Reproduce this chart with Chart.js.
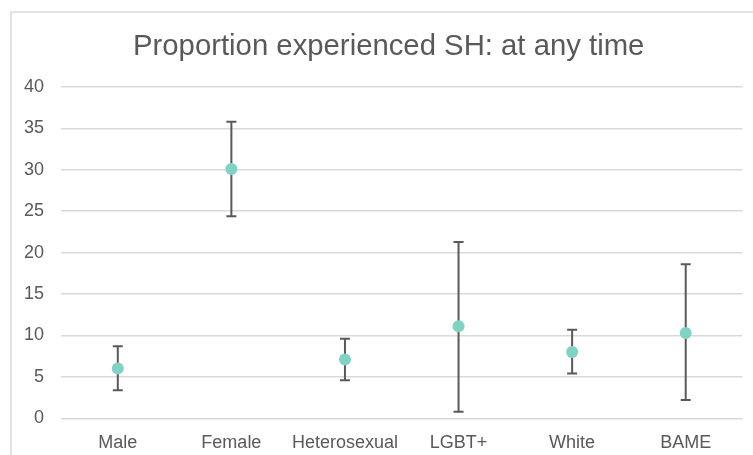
<!DOCTYPE html>
<html>
<head>
<meta charset="utf-8">
<script src="https://cdn.jsdelivr.net/npm/chart.js@4/dist/chart.umd.min.js"></script>
<style>
  html, body { margin: 0; padding: 0; background: #ffffff; }
  #wrap { position: relative; width: 753px; height: 455px; }
</style>
</head>
<body>
<div id="wrap"><canvas id="c" width="753" height="455"></canvas></div>
<script>
// Groups, point estimates (%) and their confidence limits
const categories = ['Male', 'Female', 'Heterosexual', 'LGBT+', 'White', 'BAME'];
const estimates  = [6.0, 30.1, 7.1, 11.1, 8.0, 10.3];
const lowerCI    = [3.4, 24.4, 4.6, 0.8, 5.4, 2.2];
const upperCI    = [8.7, 35.8, 9.6, 21.3, 10.7, 18.6];
const yTicks     = [0, 5, 10, 15, 20, 25, 30, 35, 40];
const chartTitle = 'Proportion experienced SH: at any time';

const TEXT = '#595959';
const GRID = '#d9d9d9';
const FONT = "'Liberation Sans', Arial, sans-serif";

// Outer frame of the chart box (it runs past the right and bottom edges)
const framePlugin = {
  id: 'frame',
  beforeDraw(chart) {
    const ctx = chart.ctx;
    ctx.save();
    ctx.fillStyle = '#ffffff';
    ctx.fillRect(0, 0, chart.width, chart.height);
    ctx.strokeStyle = GRID;
    ctx.lineWidth = 1.5;
    ctx.beginPath();
    ctx.moveTo(11, chart.height);
    ctx.lineTo(11, 12);
    ctx.lineTo(chart.width, 12);
    ctx.stroke();
    ctx.restore();
  }
};

// Title centred over the whole chart box, which is wider than the canvas
const titlePlugin = {
  id: 'boxTitle',
  afterDraw(chart) {
    const ctx = chart.ctx;
    ctx.save();
    ctx.fillStyle = TEXT;
    ctx.font = '29.3px ' + FONT;
    ctx.textAlign = 'center';
    ctx.textBaseline = 'alphabetic';
    ctx.fillText(chartTitle, 388.7, 54.5);
    ctx.restore();
  }
};

// Vertical interval bars with caps, drawn beneath the markers
const errorBarPlugin = {
  id: 'errorBars',
  beforeDatasetsDraw(chart) {
    const ctx = chart.ctx;
    const x = chart.scales.x;
    const y = chart.scales.y;
    ctx.save();
    ctx.strokeStyle = '#595959';
    ctx.lineWidth = 2;
    const cap = 5;
    categories.forEach((_, i) => {
      const px = x.getPixelForValue(i);
      const yl = y.getPixelForValue(lowerCI[i]);
      const yu = y.getPixelForValue(upperCI[i]);
      ctx.beginPath();
      ctx.moveTo(px, yl); ctx.lineTo(px, yu);
      ctx.moveTo(px - cap, yu); ctx.lineTo(px + cap, yu);
      ctx.moveTo(px - cap, yl); ctx.lineTo(px + cap, yl);
      ctx.stroke();
    });
    ctx.restore();
  }
};

new Chart(document.getElementById('c'), {
  type: 'line',
  data: {
    labels: categories,
    datasets: [{
      data: estimates,
      showLine: false,
      pointRadius: 6,
      pointHoverRadius: 6,
      pointBackgroundColor: 'rgb(128, 210, 196)',
      pointBorderWidth: 0,
      borderColor: 'rgb(128, 210, 196)'
    }]
  },
  options: {
    responsive: false,
    animation: false,
    devicePixelRatio: 1,
    layout: { padding: { left: 11, right: 10.5, top: 87, bottom: 0 } },
    plugins: {
      legend: { display: false },
      tooltip: { enabled: false },
      title: { display: false }
    },
    scales: {
      x: {
        type: 'category',
        offset: true,
        grid: { display: false, drawTicks: false },
        border: { display: false },
        ticks: {
          color: TEXT,
          font: { family: FONT, size: 18 },
          padding: 14,
          maxRotation: 0,
          autoSkip: false
        },
        afterFit(scale) { scale.height = 36.7; }
      },
      y: {
        min: 0,
        max: 40,
        afterBuildTicks(scale) { scale.ticks = yTicks.map(v => ({ value: v })); },
        grid: { color: GRID, lineWidth: 1.5, drawTicks: false },
        border: { display: false },
        ticks: {
          color: TEXT,
          font: { family: FONT, size: 18 },
          padding: 17
        },
        afterFit(scale) { scale.width = 50; }
      }
    }
  },
  plugins: [framePlugin, errorBarPlugin, titlePlugin]
});
</script>
</body>
</html>
